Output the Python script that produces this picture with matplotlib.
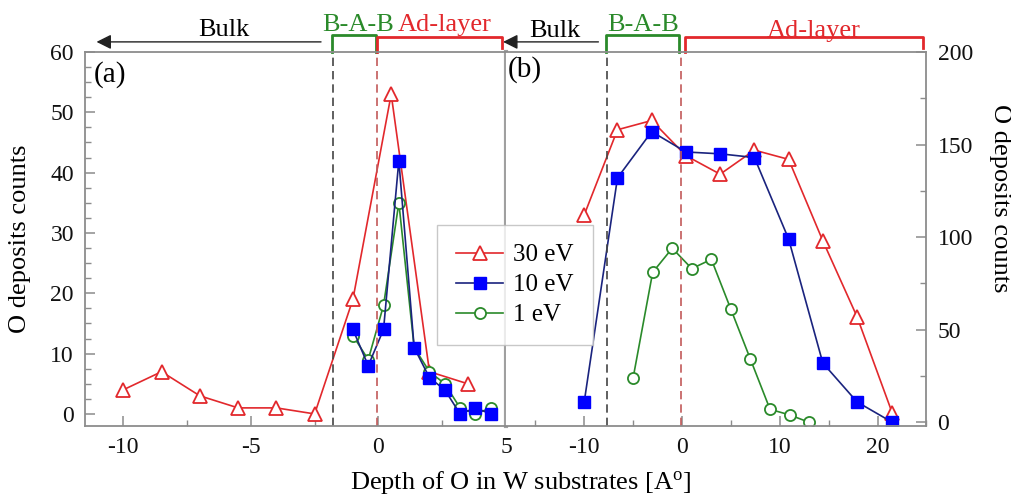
import numpy as np
import matplotlib
matplotlib.use("Agg")
import matplotlib.pyplot as plt
import matplotlib.transforms as mtransforms
from matplotlib.ticker import MultipleLocator

# ====================
# datos
# ====================
# panel (a)
x30_a = [-10, -8.5, -7, -5.5, -4, -2.5, -1, 0.5, 2, 3.5]
y30_a = [4, 7, 3, 1, 1, 0, 19, 53, 7, 5]
x10_a = [-1, -0.4, 0.2, 0.8, 1.4, 2.0, 2.6, 3.2, 3.8, 4.4]
y10_a = [14, 8, 14, 42, 11, 6, 4, 0, 1, 0]
x1_a = [-1, -0.4, 0.2, 0.8, 1.4, 2.0, 2.6, 3.2, 3.8, 4.4]
y1_a = [13, 9, 18, 35, 11, 7, 5, 1, 0, 1]

# panel (b)
x30_b = [-10, -6.6, -3.1, 0.4, 3.9, 7.4, 10.9, 14.4, 17.9, 21.5]
y30_b = [112, 158, 163, 144, 134, 147, 142, 98, 57, 5]
x10_b = [-10, -6.6, -3.1, 0.4, 3.9, 7.4, 10.9, 14.4, 17.9, 21.5]
y10_b = [11, 132, 157, 146, 145, 143, 99, 32, 11, 0]
x1_b = [-5, -3, -1, 1, 3, 5, 7, 9, 11, 13]
y1_b = [24, 81, 94, 83, 88, 61, 34, 7, 4, 0]

etiquetas = ["30 eV", "10 eV", "1 eV"]

# limites de regiones (bulk / B-A-B / ad-layer)
lim_a = {"bab": (-1.82, -0.08), "ad": (-0.04, 4.84), "bulk": (-2.25, -11.05),
         "dash": (-1.8, -0.05)}
lim_b = {"bab": (-7.8, -0.35), "ad": (0.35, 24.6), "bulk": (-8.55, -18.3),
         "dash": (-7.65, -0.15)}

# ====================
# estilo
# ====================
plt.rcParams['font.family'] = ['Liberation Serif', 'DejaVu Serif']
plt.rcParams['mathtext.fontset'] = 'custom'
plt.rcParams['mathtext.rm'] = 'Liberation Serif'
plt.rcParams['mathtext.it'] = 'Liberation Serif:italic'
plt.rcParams['axes.unicode_minus'] = False

ROJO = '#e2282c'
AZUL_L = '#1a237e'
AZUL_M = '#0000ff'
VERDE = '#2a8a2a'
GRIS = '#8c8c8c'
FS = 19

fig = plt.figure(figsize=(10.11, 4.98), dpi=100)
ax1 = fig.add_axes([0.0841, 0.1446, 0.4164, 0.751])
ax2 = fig.add_axes([0.5005, 0.1446, 0.4159, 0.751])


def series(ax, xa, ya, xb, yb, xc, yc):
    h30, = ax.plot(xa, ya, '-^', color=ROJO, mfc='white', mec=ROJO, ms=10, lw=1.2, mew=1.3)
    h1, = ax.plot(xc, yc, '-o', color=VERDE, mfc='white', mec=VERDE, ms=8, lw=1.2, mew=1.3)
    h10, = ax.plot(xb, yb, '-s', color=AZUL_L, mfc=AZUL_M, mec=AZUL_M, ms=8, lw=1.2)
    return h30, h10, h1


def estilo(ax):
    for s in ax.spines.values():
        s.set_color(GRIS)
        s.set_linewidth(1.3)
    ax.tick_params(which='both', direction='in', colors=GRIS, labelcolor='#111111',
                   labelsize=17)
    ax.tick_params(which='major', length=7, width=1.1, pad=8)
    ax.tick_params(which='minor', length=4, width=1.0)


def regiones(ax, lim):
    trans = mtransforms.blended_transform_factory(ax.transData, ax.transAxes)
    ax.axvline(lim["dash"][0], color='#444444', ls=(0, (5, 3)), lw=1.2)
    ax.axvline(lim["dash"][1], color='#c25a5a', ls=(0, (5, 3)), lw=1.2)
    # flecha bulk
    ax.annotate('', xy=(lim["bulk"][1], 1.027), xytext=(lim["bulk"][0], 1.027),
                xycoords=trans, textcoords=trans, annotation_clip=False,
                arrowprops=dict(arrowstyle='-|>', color='#222222', lw=1.0,
                                mutation_scale=22, shrinkA=0, shrinkB=0))
    # corchete B-A-B
    g0, g1 = lim["bab"]
    ax.plot([g0, g0, g1, g1], [1.0, 1.045, 1.045, 1.0], color=VERDE, lw=2,
            transform=trans, clip_on=False)
    r0, r1 = lim["ad"]
    ax.plot([r0, r0, r1, r1], [1.0, 1.04, 1.04, 1.01], color=ROJO, lw=2,
            transform=trans, clip_on=False)
    return trans


h30, h10, h1 = series(ax1, x30_a, y30_a, x10_a, y10_a, x1_a, y1_a)
series(ax2, x30_b, y30_b, x10_b, y10_b, x1_b, y1_b)

# panel (a)
ax1.set_xlim(-11.5, 5)
ax1.set_ylim(-2, 60)
ax1.xaxis.set_major_locator(MultipleLocator(5))
ax1.xaxis.set_minor_locator(MultipleLocator(2.5))
ax1.yaxis.set_major_locator(MultipleLocator(10))
ax1.yaxis.set_minor_locator(MultipleLocator(2.5))
estilo(ax1)
ax1.tick_params(which='both', right=False, top=False)
ax1.spines['right'].set_linewidth(3)
ax1.spines['right'].set_color('#a0a0a0')
ax1.set_ylabel('O deposits counts', fontsize=FS)
ax1.yaxis.set_label_coords(-0.128, 0.5)
ax1.text(0.02, 0.94, '(a)', transform=ax1.transAxes, fontsize=21, va='center')
tr1 = regiones(ax1, lim_a)
ax1.text(-6.05, 1.06, 'Bulk', transform=tr1, fontsize=FS, ha='center', va='center')
ax1.text(-0.81, 1.072, 'B-A-B', transform=tr1, fontsize=FS, ha='center', va='center',
         color=VERDE)
ax1.text(2.6, 1.072, 'Ad-layer', transform=tr1, fontsize=FS, ha='center', va='center',
         color=ROJO)

# panel (b)
ax2.set_xlim(-18, 25)
ax2.set_ylim(-2, 200)
ax2.xaxis.set_major_locator(MultipleLocator(10))
ax2.xaxis.set_minor_locator(MultipleLocator(5))
ax2.yaxis.set_major_locator(MultipleLocator(50))
ax2.yaxis.set_minor_locator(MultipleLocator(25))
estilo(ax2)
ax2.yaxis.tick_right()
ax2.tick_params(which='both', left=False, top=False)
ax2.spines['left'].set_visible(False)
ax2.yaxis.set_label_position('right')
ax2.set_ylabel('O deposits counts', fontsize=FS, rotation=-90)
ax2.yaxis.set_label_coords(1.2, 0.61)
ax2.text(0.005, 0.952, '(b)', transform=ax2.transAxes, fontsize=21, va='center')
tr2 = regiones(ax2, lim_b)
ax2.text(-13, 1.056, 'Bulk', transform=tr2, fontsize=FS, ha='center', va='center')
ax2.text(-4.0, 1.072, 'B-A-B', transform=tr2, fontsize=FS, ha='center', va='center',
         color=VERDE)
ax2.text(13.5, 1.056, 'Ad-layer', transform=tr2, fontsize=FS, ha='center', va='center',
         color=ROJO)

fig.text(0.515, 0.032, 'Depth of O in W substrates [A$^{\\mathrm{o}}$]', fontsize=FS,
         ha='center', va='center')

leg = fig.legend([h30, h10, h1], etiquetas, loc='upper left',
                 bbox_to_anchor=(437 / 1011, 1 - 225 / 498), fontsize=18,
                 frameon=True, fancybox=False, handlelength=1.9, labelspacing=0.3,
                 borderpad=0.75, handletextpad=0.4, borderaxespad=0)
leg.get_frame().set_edgecolor('#bbbbbb')
leg.get_frame().set_linewidth(1.0)

fig.savefig('out.png', dpi=100)
